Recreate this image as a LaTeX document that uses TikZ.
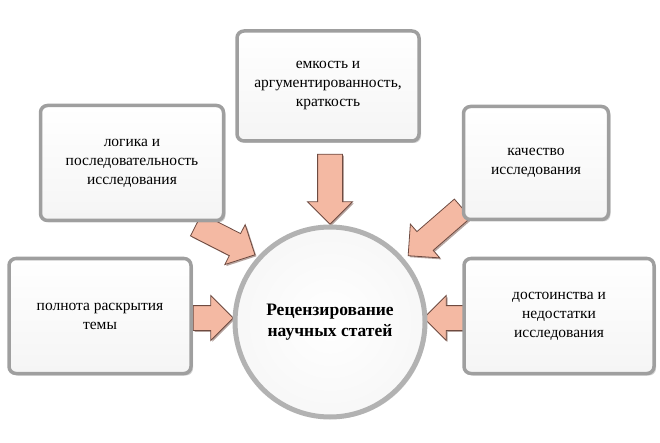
\documentclass[tikz,border=0pt]{standalone}
\usepackage{fontspec}
\setmainfont{Liberation Serif}
\usetikzlibrary{shapes.arrows,shadows}
\definecolor{arrfill}{HTML}{F4B9A3}
\definecolor{arrdraw}{HTML}{6E4A40}
\tikzset{
 box/.style={draw=gray!75,line width=3.5pt,rounded corners=7pt,top color=white,bottom color=gray!8,
   drop shadow={shadow xshift=2pt,shadow yshift=-2pt,opacity=0.35},align=center,font=\fontsize{15.5}{19}\selectfont,inner sep=2pt},
 barrow/.style={single arrow,draw=arrdraw,line width=0.8pt,fill=arrfill,single arrow head extend=10pt,
   inner xsep=0pt,inner ysep=12pt,minimum width=0pt,drop shadow={shadow xshift=1.5pt,shadow yshift=-1.5pt,opacity=0.5,fill=arrdraw}},
}
\begin{document}
\begin{tikzpicture}[x=1pt,y=-1pt]
\useasboundingbox (0,0) rectangle (660,443);
% arrows
\node[barrow,minimum height=70pt,rotate=-90] (a1) at (330,183) {};
\node[barrow,minimum height=66pt,rotate=-27] (a2) at (220,237) {};
\node[barrow,minimum height=72pt,rotate=221] (a3) at (440,228) {};
\node[barrow,minimum height=40pt,rotate=0] (a4) at (207,318) {};
\node[barrow,minimum height=40pt,rotate=180] (a5) at (450,318) {};
% boxes
\node[box,minimum width=182pt,minimum height=110pt] (b1) at (328,86) {емкость и\\аргументированность,\\краткость};
\node[box,minimum width=183pt,minimum height=115pt] (b2) at (132,163) {логика и\\последовательность\\исследования};
\node[box,minimum width=145pt,minimum height=113pt] (b3) at (536,163) {качество\\исследования};
\node[box,minimum width=182pt,minimum height=115pt] (b4) at (100,316) {полнота раскрытия\\темы};
\node[box,minimum width=190pt,minimum height=115pt] (b5) at (559,316) {достоинства и\\недостатки\\исследования};
% circle
\node[circle,draw=gray!60,line width=5pt,inner color=white,outer color=gray!6,minimum size=190pt,
  drop shadow={shadow xshift=2pt,shadow yshift=-2pt,opacity=0.3},align=center,
  font=\bfseries\fontsize{17.5}{21}\selectfont] (c) at (330,322) {Рецензирование\\научных статей};
\end{tikzpicture}
\end{document}
